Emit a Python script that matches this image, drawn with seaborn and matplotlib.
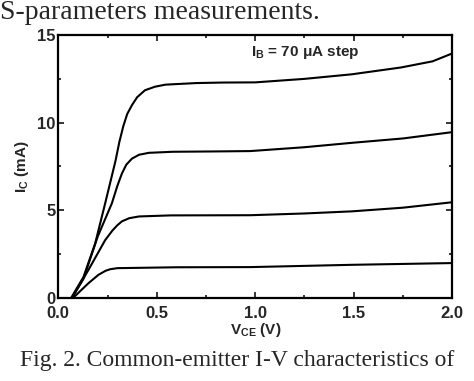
import numpy as np
import pandas as pd
import seaborn as sns
import matplotlib.pyplot as plt
from matplotlib.ticker import MultipleLocator

# I-V curves (V_CE in V, I_C in mA)
v1 = [0.065, 0.128, 0.187, 0.238, 0.29, 0.31, 0.33, 0.35, 0.374, 0.40, 0.44, 0.49, 0.544, 0.7, 0.834, 1.0, 1.25, 1.49, 1.74, 1.9, 2.0]
i1 = [0.0, 1.2, 3.1, 5.4, 7.8, 8.9, 9.8, 10.5, 11.0, 11.45, 11.85, 12.05, 12.17, 12.26, 12.29, 12.3, 12.5, 12.76, 13.15, 13.5, 13.95]
v2 = [0.068, 0.128, 0.2, 0.272, 0.30, 0.323, 0.345, 0.374, 0.41, 0.46, 0.58, 0.8, 0.975, 1.25, 1.49, 1.75, 2.0]
i2 = [0.0, 1.1, 3.5, 5.4, 6.4, 7.1, 7.6, 7.95, 8.17, 8.28, 8.34, 8.36, 8.38, 8.6, 8.85, 9.1, 9.46]
v3 = [0.07, 0.153, 0.238, 0.275, 0.30, 0.323, 0.36, 0.41, 0.57, 0.975, 1.25, 1.49, 1.75, 2.0]
i3 = [0.0, 1.6, 3.3, 3.85, 4.15, 4.37, 4.55, 4.65, 4.71, 4.72, 4.82, 4.94, 5.15, 5.46]
v4 = [0.075, 0.153, 0.204, 0.24, 0.264, 0.3, 0.6, 0.975, 1.49, 2.0]
i4 = [0.0, 0.84, 1.32, 1.55, 1.64, 1.7, 1.75, 1.76, 1.89, 1.99]

curves = []
for k, (v, i) in enumerate([(v1, i1), (v2, i2), (v3, i3), (v4, i4)]):
    curves.append(pd.DataFrame({'Vce': v, 'Ic': i, 'step': k}))
df = pd.concat(curves, ignore_index=True)

sns.set_style("ticks")
plt.rcParams['font.family'] = ['Liberation Sans', 'DejaVu Sans']
plt.rcParams['font.weight'] = 'bold'
plt.rcParams['mathtext.fontset'] = 'custom'
plt.rcParams['mathtext.rm'] = 'Liberation Sans:bold'
plt.rcParams['mathtext.bf'] = 'Liberation Sans:bold'

fig = plt.figure(figsize=(4.74, 3.81), dpi=100)
ax = fig.add_axes([0.123, 0.218, 0.831, 0.690])

sns.lineplot(data=df, x='Vce', y='Ic', units='step', estimator=None,
             color='black', lw=1.5, sort=False, ax=ax)

ax.set_xlim(0, 2.0)
ax.set_ylim(0, 15)
ax.xaxis.set_major_locator(MultipleLocator(0.5))
ax.xaxis.set_minor_locator(MultipleLocator(0.25))
ax.yaxis.set_major_locator(MultipleLocator(5))
ax.yaxis.set_minor_locator(MultipleLocator(2.5))
ax.xaxis.set_major_formatter(plt.FuncFormatter(lambda x, p: f"{x:.1f}"))
ax.yaxis.set_major_formatter(plt.FuncFormatter(lambda y, p: f"{y:.0f}"))
ax.tick_params(which='both', direction='in', top=True, right=True, width=1.3, labelsize=12)
ax.tick_params(axis='x', pad=6)
ax.tick_params(axis='y', pad=2)
ax.tick_params(which='major', length=4)
ax.tick_params(which='minor', length=2)
for s in ax.spines.values():
    s.set_linewidth(1.6)
    s.set_color('black')

ax.set_xlabel(r"V$_{\rm CE}$ (V)", fontsize=11, fontweight='bold', labelpad=0)
ax.set_ylabel(r"I$_{\rm C}$ (mA)", fontsize=11, fontweight='bold', labelpad=4)
ax.text(0.98, 14.0, r"I$_{\rm B}$ = 70 μA step", fontsize=11, fontweight='bold', va='center', ha='left')

fig.text(0.0, 0.966, "S-parameters measurements.", family='Liberation Serif',
         fontweight='normal', fontsize=20, va='center', ha='left')
fig.text(0.5, 0.055, "Fig. 2. Common-emitter I-V characteristics of", family='Liberation Serif',
         fontweight='normal', fontsize=17, va='center', ha='center')

fig.savefig('out.png', dpi=100)
